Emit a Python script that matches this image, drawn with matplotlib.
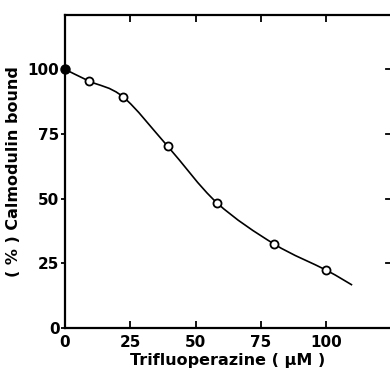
import matplotlib.pyplot as plt
from matplotlib.path import Path
from matplotlib.patches import PathPatch

# measured points (open circles) and the control value at 0 (filled)
tfp_uM = [9.3, 22.3, 39.3, 58.2, 80.2, 100.0]
bound_pct = [95.4, 89.3, 70.3, 48.4, 32.4, 22.4]
control_x = [0.0]
control_y = [100.0]

# hand-drawn curve
curve_x = [0, 9.3, 22.3, 39.3, 58.2, 80.2, 100, 110]
curve_y = [100, 95.4, 89.3, 70.3, 48.4, 32.4, 22.4, 16.6]

xticks = [0, 25, 50, 75, 100]
yticks = [0, 25, 50, 75, 100]

plt.rcParams['font.family'] = 'DejaVu Sans'
plt.rcParams['font.weight'] = 'bold'

fig = plt.figure(figsize=(3.9, 3.8), dpi=100)
ax = fig.add_axes([65 / 390, 1 - 328 / 380, 325 / 390, 313 / 380])


def smooth_path(xs, ys):
    # catmull-rom through the read points, written as cubic bezier segments
    pts = list(zip(xs, ys))
    verts = [pts[0]]
    codes = [Path.MOVETO]
    for i in range(len(pts) - 1):
        p0 = pts[i - 1] if i > 0 else pts[i]
        p1 = pts[i]
        p2 = pts[i + 1]
        p3 = pts[i + 2] if i + 2 < len(pts) else pts[i + 1]
        c1 = (p1[0] + (p2[0] - p0[0]) / 6, p1[1] + (p2[1] - p0[1]) / 6)
        c2 = (p2[0] - (p3[0] - p1[0]) / 6, p2[1] - (p3[1] - p1[1]) / 6)
        verts += [c1, c2, p2]
        codes += [Path.CURVE4] * 3
    return Path(verts, codes)


ax.add_patch(PathPatch(smooth_path(curve_x, curve_y), fill=False,
                       edgecolor='black', lw=1.2, zorder=2))
ax.plot(tfp_uM, bound_pct, 'o', ms=5.8, mfc='white', mec='black', mew=1.3, zorder=3)
ax.plot(control_x, control_y, 'o', ms=6.5, color='black', clip_on=False, zorder=4)

ax.set_xlim(0, 124.5)
ax.set_ylim(0, 121)
ax.set_xticks(xticks)
ax.set_yticks(yticks)
ax.set_xticklabels([str(t) for t in xticks], fontsize=11, fontweight='bold')
ax.set_yticklabels([str(t) for t in yticks], fontsize=11, fontweight='bold')

for s in ['left', 'bottom', 'top']:
    ax.spines[s].set_linewidth(1.6)
ax.spines['right'].set_visible(False)

ax.tick_params(axis='x', direction='in', length=5, width=1.3, top=True, pad=5)
ax.tick_params(axis='y', direction='out', length=3, width=1.3, right=False, pad=1)
# right-hand ticks pointing inward
for t in yticks[1:]:
    ax.plot([123.0, 124.5], [t, t], color='black', lw=1.3, clip_on=False)

ax.set_xlabel('Trifluoperazine ( \u03bcM )', fontsize=11.5, fontweight='bold', labelpad=2)
ax.set_ylabel('( % ) Calmodulin bound', fontsize=11.5, fontweight='bold', labelpad=5)

fig.savefig('out.png', dpi=100)
